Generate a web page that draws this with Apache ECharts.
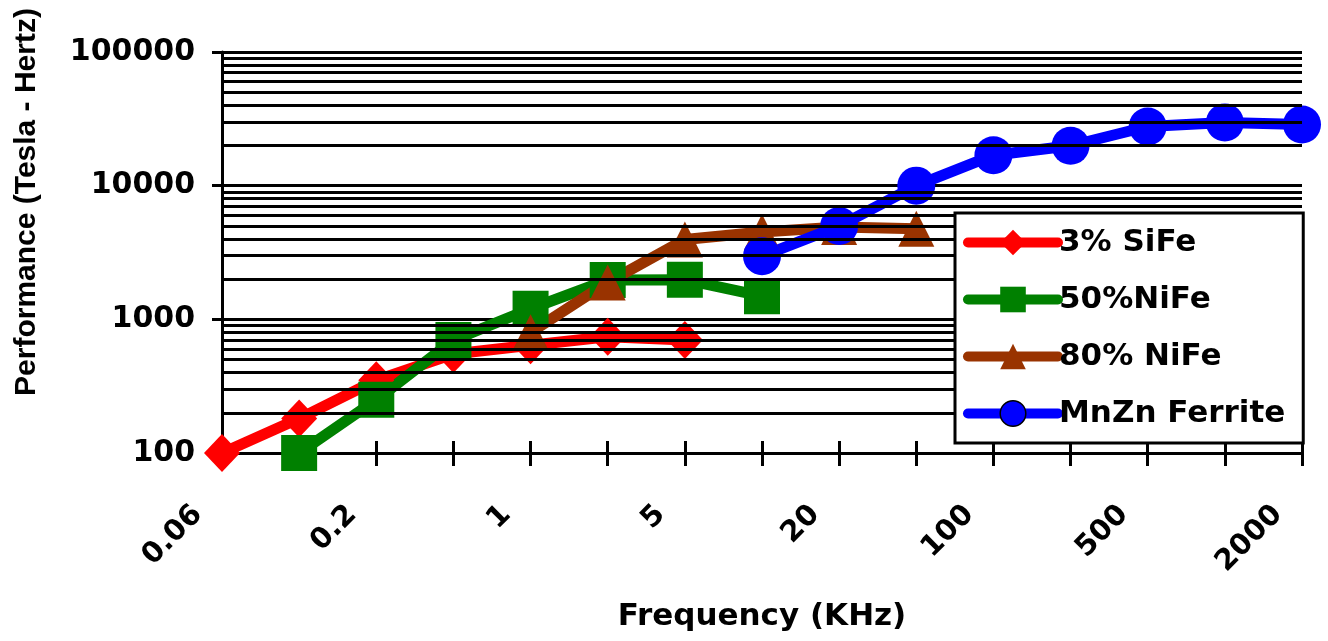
<!DOCTYPE html>
<html>
<head>
<meta charset="utf-8">
<script src="https://cdn.jsdelivr.net/npm/echarts@6/dist/echarts.min.js"></script>
<style>
html,body{margin:0;padding:0;background:#fff;}
#chart{width:1328px;height:641px;}
</style>
</head>
<body>
<div id="chart"></div>
<script>
const categories = ['0.06','0.1','0.2','0.5','1','2','5','10','20','50','100','200','500','1000','2000'];
const siFe    = [100, 181, 350, 550, 640, 740, 700, '-', '-', '-', '-', '-', '-', '-', '-'];
const niFe50  = ['-', 100, 250, 700, 1200, 1970, 1980, 1490, '-', '-', '-', '-', '-', '-', '-'];
const niFe80  = ['-', '-', '-', '-', 800, 1890, 3950, 4500, 4900, 4770, '-', '-', '-', '-', '-'];
const mnZn    = ['-', '-', '-', '-', '-', '-', '-', 2970, 4990, 10000, 16900, 19900, 27700, 29700, 28700];
const seriesNames = ['3% SiFe', '50%NiFe', '80% NiFe', 'MnZn Ferrite'];
const minorGrid = [200,300,400,500,600,700,800,900,2000,3000,4000,5000,6000,7000,8000,9000,20000,30000,40000,50000,60000,70000,80000,90000];

const chart = echarts.init(document.getElementById('chart'), null, {renderer:'canvas'});
const HFONT = 'DejaVu Sans';
const lineSeries = (name, data, color, symbol, size) => ({
  name, type:'line', data, symbol, symbolSize:size,
  lineStyle:{color, width:11, cap:'round', join:'round'},
  itemStyle:{color},
  z:3
});
chart.setOption({
  animation:false,
  backgroundColor:'#fff',
  grid:{left:222, right:26, top:52, bottom:188, containLabel:false},
  xAxis:[{
    type:'category', data:categories, boundaryGap:false,
    axisLine:{lineStyle:{color:'#000', width:3}},
    axisTick:{interval:0, length:13, lineStyle:{color:'#000', width:3}},
    axisLabel:{interval:1, rotate:45, margin:33, padding:[0,34,0,0], color:'#000', fontFamily:HFONT, fontWeight:'bold', fontSize:29},
    splitLine:{show:false},
    name:'Frequency (KHz)', nameLocation:'middle', nameGap:148,
    nameTextStyle:{color:'#000', fontFamily:HFONT, fontWeight:'bold', fontSize:31}
  },{
    type:'category', data:categories, boundaryGap:false, position:'bottom', gridIndex:0,
    axisLine:{show:false},
    axisTick:{interval:0, inside:true, length:12, lineStyle:{color:'#000', width:3}},
    axisLabel:{show:false}, splitLine:{show:false}
  }],
  yAxis:{
    type:'log', logBase:10, min:100, max:100000,
    axisLine:{show:true, lineStyle:{color:'#000', width:3}},
    axisTick:{show:true, length:10, lineStyle:{color:'#000', width:3}},
    axisLabel:{margin:27, color:'#000', fontFamily:HFONT, fontWeight:'bold', fontSize:30,
      formatter: v => String(Math.round(v))},
    splitLine:{show:true, lineStyle:{color:'#000', width:3}},
    minorTick:{show:false}
  },
  legend:{
    orient:'vertical', left:955, top:213,
    data:[
      {name:'3% SiFe'}, {name:'50%NiFe'}, {name:'80% NiFe'},
      {name:'MnZn Ferrite', itemStyle:{borderColor:'#000', borderWidth:1.5}}
    ],
    backgroundColor:'#fff', borderColor:'#000', borderWidth:3, borderRadius:0,
    padding:[14,18,14,8], itemGap:26, itemWidth:90, itemHeight:32,
    lineStyle:{width:10, cap:'round'},
    textStyle:{color:'#000', fontFamily:HFONT, fontWeight:'bold', fontSize:31, padding:[0,0,0,-4]},
    z:10
  },
  graphic:[{
    type:'text', x:27, y:202, rotation:Math.PI/2,
    style:{text:'Performance (Tesla - Hertz)', x:0, y:0, align:'center', verticalAlign:'middle',
      font:'bold 30px "Liberation Sans", Arial, sans-serif', fill:'#000'}
  }],
  series:[
    {
      name:'grid', type:'line', data:[], z:1, silent:true,
      markLine:{silent:true, symbol:'none', label:{show:false}, animation:false,
        lineStyle:{color:'#000', width:3, type:'solid'},
        data:minorGrid.map(v => ({yAxis:v}))}
    },
    lineSeries(seriesNames[0], siFe, '#ff0000', 'diamond', [36,38]),
    lineSeries(seriesNames[1], niFe50, '#008000', 'rect', 36),
    lineSeries(seriesNames[2], niFe80, '#993300', 'triangle', 36),
    lineSeries(seriesNames[3], mnZn, '#0000ff', 'circle', 38)
  ]
});
</script>
</body>
</html>
